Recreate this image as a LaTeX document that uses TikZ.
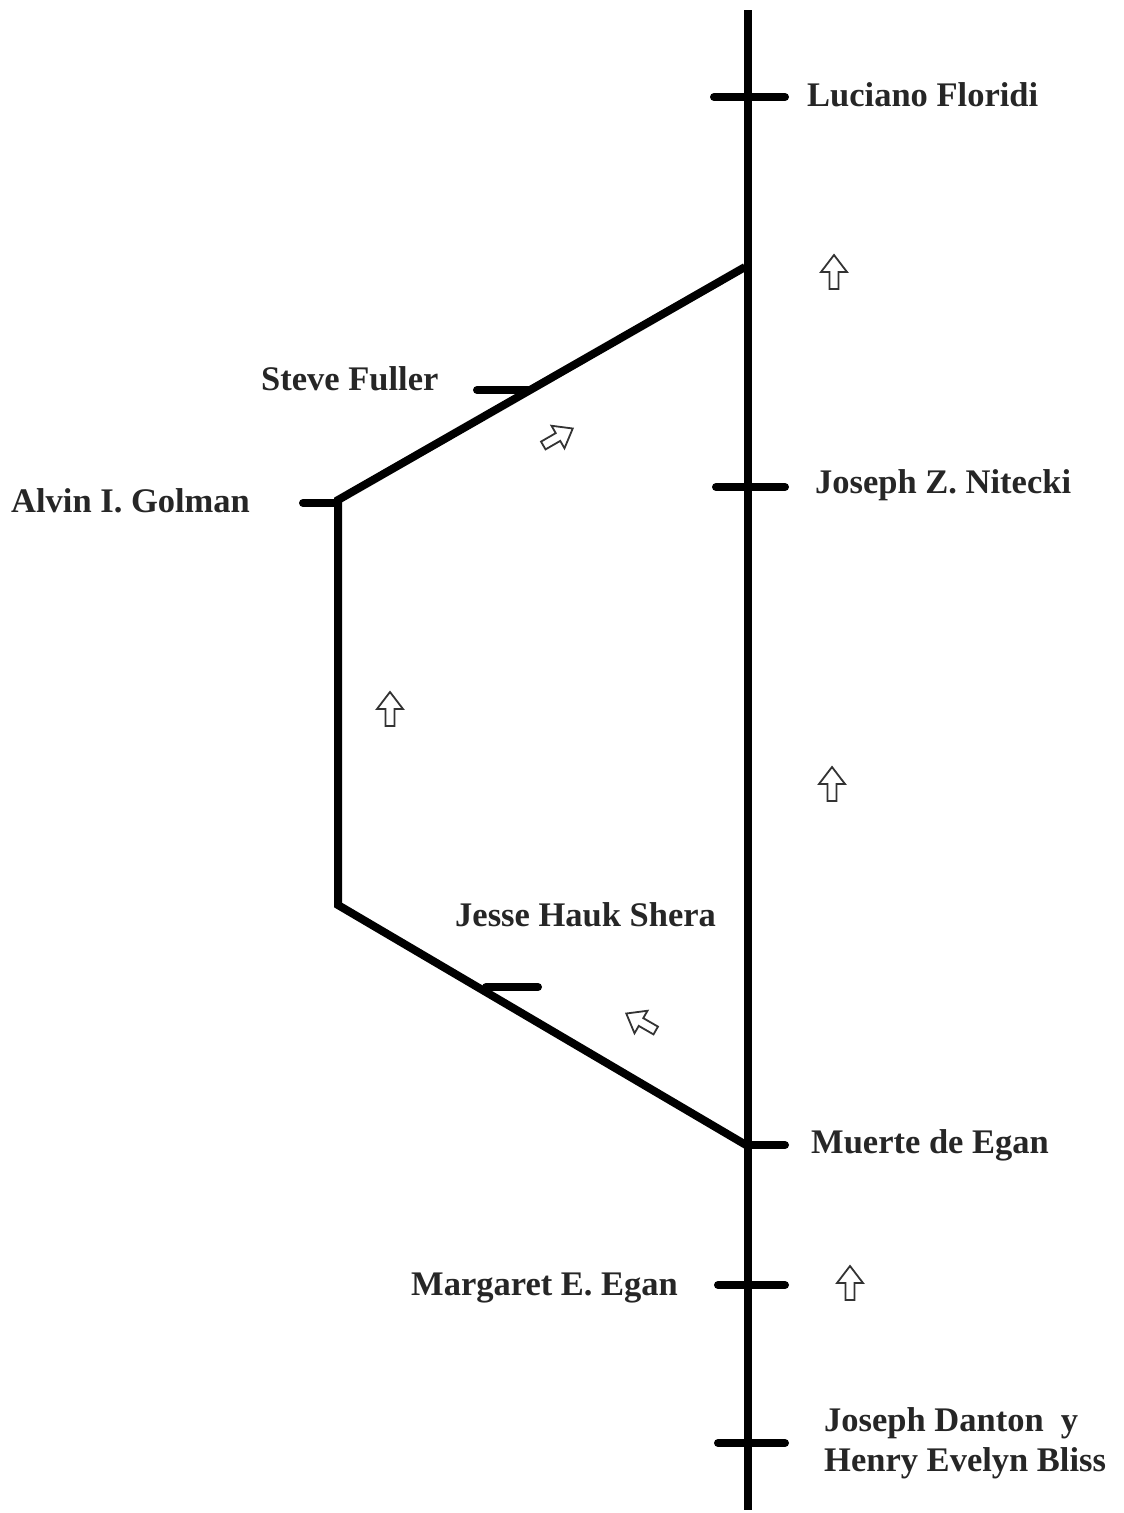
\documentclass[tikz,border=0pt]{standalone}
\usepackage{fontspec}
\setmainfont{Liberation Serif}
\begin{document}
\begin{tikzpicture}[x=1pt,y=-1pt,
  bar/.style={line width=8pt},
  tick/.style={line width=8pt,line cap=round},
  lbl/.style={inner sep=0pt,anchor=base west,font=\fontsize{34.5}{40}\selectfont\bfseries,text=black!85},
  hollow/.pic={\draw[line width=1.8pt,draw=black!80,fill=white,line join=miter]
     (0,-17) -- (13,0) -- (4.5,0) -- (4.5,17) -- (-4.5,17) -- (-4.5,0) -- (-13,0) -- cycle;}]
\useasboundingbox (0,0) rectangle (1124,1513);
% main line
\coordinate (top) at (748,10);
\coordinate (bot) at (748,1510);
\draw[bar] (top) -- (bot);
% branch
\coordinate (bt) at (745,267);
\coordinate (ga) at (338,500);
\coordinate (gb) at (338,905);
\coordinate (eg) at (746,1145);
\draw[bar,line join=miter] (bt) -- (ga) -- (gb) -- (eg);
% ticks on main line
\draw[tick] (714,97) coordinate (lf1) -- (785,97) coordinate (lf2);
\draw[tick] (716,487) coordinate (nz1) -- (785,487) coordinate (nz2);
\draw[tick] (748,1145) coordinate (me1) -- (785,1145) coordinate (me2);
\draw[tick] (718,1285) coordinate (mg1) -- (785,1285) coordinate (mg2);
\draw[tick] (718,1443) coordinate (jd1) -- (785,1443) coordinate (jd2);
% ticks on branch
\draw[tick] (303,503) coordinate (ag1) -- (338,503) coordinate (ag2);
\draw[tick] (477,390) coordinate (sf1) -- (528,390) coordinate (sf2);
\draw[tick] (486,987) coordinate (js1) -- (538,987) coordinate (js2);
% labels
\node[lbl] (lf) at (807,106) {Luciano Floridi};
\node[lbl] (sf) at (261,390) {Steve Fuller};
\node[lbl] (nz) at (815,493) {Joseph Z. Nitecki};
\node[lbl] (ag) at (11,512) {Alvin I. Golman};
\node[lbl] (js) at (455,926) {Jesse Hauk Shera};
\node[lbl] (me) at (811,1153) {Muerte de Egan};
\node[lbl] (mg) at (411,1295) {Margaret E. Egan};
\node[lbl] (jd) at (824,1431) {Joseph Danton\ \ y};
\node[lbl] (hb) at (824,1471) {Henry Evelyn Bliss};
% hollow arrows
\pic at (834,272) {hollow};
\pic at (390,709) {hollow};
\pic at (832,784) {hollow};
\pic at (850,1283) {hollow};
\pic[rotate=-60] at (558,437) {hollow};
\pic[rotate=60] at (641,1022) {hollow};
\end{tikzpicture}
\end{document}
